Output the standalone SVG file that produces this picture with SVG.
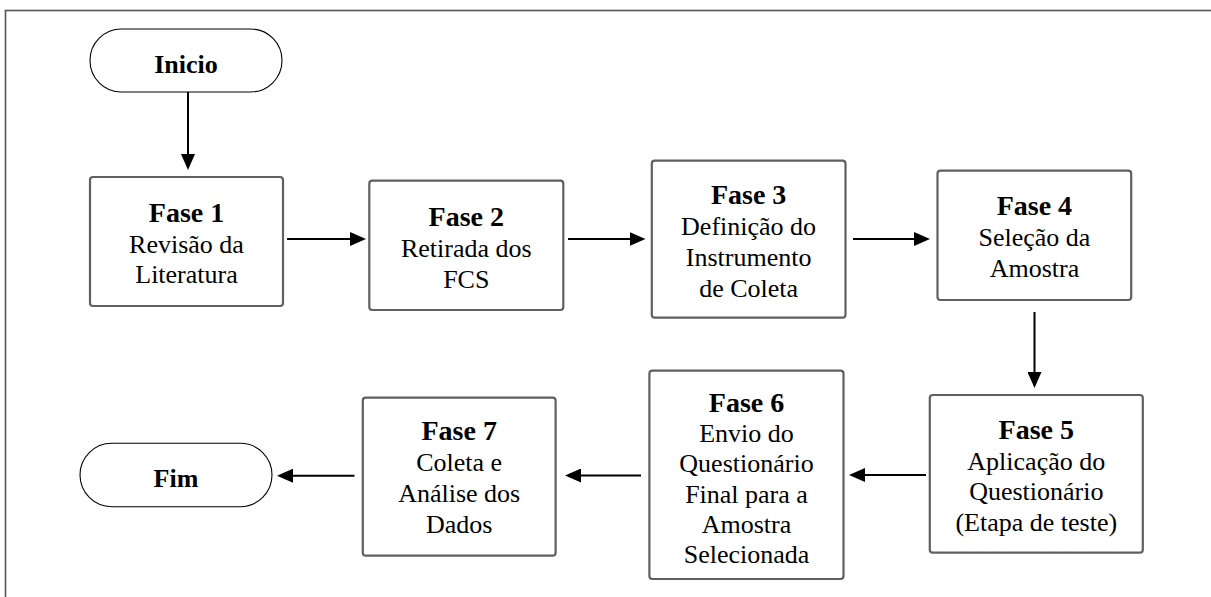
<svg xmlns="http://www.w3.org/2000/svg" width="1211" height="597" viewBox="0 0 1211 597">
<style>
.box{fill:#fff;stroke:#606060;stroke-width:2.2}
.term{fill:#fff;stroke:#000;stroke-width:1.1}
text{font-family:'Liberation Serif',Tinos,'Times New Roman',Times,'DejaVu Serif',serif;fill:#000;text-anchor:middle}
.h{font-size:28px;font-weight:bold}
.b{font-size:26px}
.tb{font-size:26px;font-weight:bold}
.c{fill:none;stroke:#000;stroke-width:2}
</style>
<defs>
<marker id="ah" markerUnits="userSpaceOnUse" markerWidth="16" markerHeight="14" refX="13" refY="7" orient="auto">
<path d="M0,0 L16,7 L0,14 z" fill="#000"/>
</marker>
</defs>
<rect x="5.5" y="10.5" width="1230" height="620" fill="none" stroke="#555" stroke-width="1.6"/>
<g id="connectors">
<path class="c" d="M188,92 V167" marker-end="url(#ah)"/>
<path class="c" d="M287,239 H363" marker-end="url(#ah)"/>
<path class="c" d="M568,239 H642.5" marker-end="url(#ah)"/>
<path class="c" d="M853,239 H927" marker-end="url(#ah)"/>
<path class="c" d="M1034.5,312 V385" marker-end="url(#ah)"/>
<path class="c" d="M926,475 H852" marker-end="url(#ah)"/>
<path class="c" d="M641,475.5 H568" marker-end="url(#ah)"/>
<path class="c" d="M354.5,475.7 H280" marker-end="url(#ah)"/>
</g>
<g id="inicio">
<rect class="term" x="90" y="29" width="192" height="63" rx="31.5"/>
<text class="tb" x="186" y="73">Inicio</text>
</g>
<g id="fase1">
<rect class="box" x="90" y="177" width="193" height="129" rx="3"/>
<text class="h" x="186.5" y="222">Fase 1</text>
<text class="b" x="186.5" y="253">Revisão da</text>
<text class="b" x="186.5" y="283">Literatura</text>
</g>
<g id="fase2">
<rect class="box" x="369.3" y="180.7" width="194" height="129.3" rx="3"/>
<text class="h" x="466.3" y="225.7">Fase 2</text>
<text class="b" x="466.3" y="256.7">Retirada dos</text>
<text class="b" x="466.3" y="288">FCS</text>
</g>
<g id="fase3">
<rect class="box" x="651.8" y="160.7" width="193.7" height="157" rx="3"/>
<text class="h" x="748.6" y="203.5">Fase 3</text>
<text class="b" x="748.6" y="234.5">Definição do</text>
<text class="b" x="748.6" y="265.5">Instrumento</text>
<text class="b" x="748.6" y="296.5">de Coleta</text>
</g>
<g id="fase4">
<rect class="box" x="937.5" y="170.7" width="193.7" height="129.3" rx="3"/>
<text class="h" x="1034.4" y="215">Fase 4</text>
<text class="b" x="1034.4" y="246">Seleção da</text>
<text class="b" x="1034.4" y="277">Amostra</text>
</g>
<g id="fase5">
<rect class="box" x="929.8" y="395" width="213" height="157.7" rx="3"/>
<text class="h" x="1036.3" y="438.5">Fase 5</text>
<text class="b" x="1036.3" y="469.5">Aplicação do</text>
<text class="b" x="1036.3" y="500">Questionário</text>
<text class="b" x="1036.3" y="530.5">(Etapa de teste)</text>
</g>
<g id="fase6">
<rect class="box" x="649.4" y="370.7" width="194.1" height="208.3" rx="3"/>
<text class="h" x="746.5" y="412">Fase 6</text>
<text class="b" x="746.5" y="442">Envio do</text>
<text class="b" x="746.5" y="472">Questionário</text>
<text class="b" x="746.5" y="502.5">Final para a</text>
<text class="b" x="746.5" y="533">Amostra</text>
<text class="b" x="746.5" y="563">Selecionada</text>
</g>
<g id="fase7">
<rect class="box" x="362.8" y="397.7" width="192.8" height="158" rx="3"/>
<text class="h" x="459.2" y="440">Fase 7</text>
<text class="b" x="459.2" y="471">Coleta e</text>
<text class="b" x="459.2" y="502">Análise dos</text>
<text class="b" x="459.2" y="533">Dados</text>
</g>
<g id="fim">
<rect class="term" x="80" y="443.3" width="192" height="63.4" rx="31.7"/>
<text class="tb" x="176" y="486.7">Fim</text>
</g>
</svg>
